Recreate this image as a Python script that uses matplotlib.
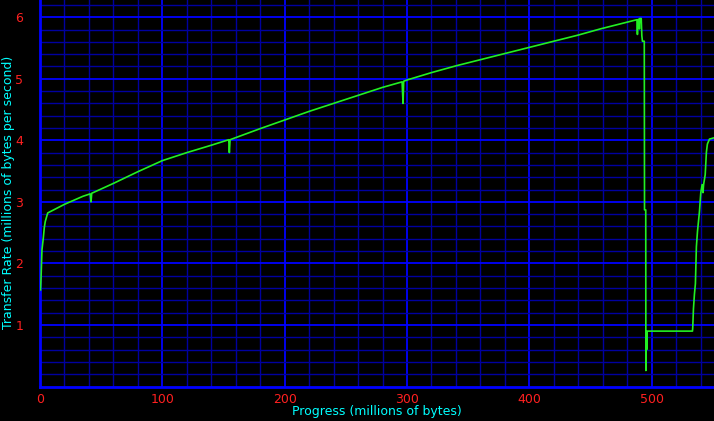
import matplotlib
matplotlib.use("Agg")
import matplotlib.pyplot as plt
from matplotlib.ticker import MultipleLocator, FixedLocator

# progress (millions of bytes) vs transfer rate (millions of bytes per second)
progress = [0.4, 0.8, 1.6, 2.7, 3.5, 4.3, 6.3, 20, 35, 41.0, 41.7, 42.3,
            60, 80, 100, 120, 140, 154.3, 154.8, 155.4, 180, 200, 220, 240,
            260, 280, 296.0, 296.4, 296.8, 297.3, 300, 320, 340, 360, 380,
            400, 420, 440, 458, 480, 488, 488.4, 488.8, 489.6, 490, 490.4,
            491.5, 492, 492.5, 494, 494.2, 495.2, 495.3, 495.6, 496, 496.3,
            533.4, 533.6, 534.2, 535, 535.8, 536.6, 537.5, 539.1, 540.2,
            541.3, 542, 542.5, 543.8, 544.8, 545.6, 547.3, 551]
rate = [1.57, 1.73, 2.22, 2.41, 2.58, 2.68, 2.82, 2.96, 3.09, 3.13, 3.00, 3.14,
        3.30, 3.49, 3.67, 3.80, 3.92, 4.01, 3.80, 4.01, 4.19, 4.33, 4.47, 4.60,
        4.73, 4.86, 4.95, 4.77, 4.60, 4.96, 4.98, 5.10, 5.21, 5.31, 5.41,
        5.51, 5.61, 5.71, 5.81, 5.92, 5.96, 5.72, 5.96, 5.97, 5.81, 5.98,
        5.98, 5.70, 5.61, 5.61, 2.87, 2.87, 0.26, 0.90, 0.60, 0.90,
        0.90, 0.95, 1.26, 1.50, 1.67, 2.27, 2.52, 2.84, 3.15,
        3.28, 3.15, 3.28, 3.44, 3.81, 3.94, 4.02, 4.04]

x_ticks = [0, 100, 200, 300, 400, 500]
y_ticks = [1, 2, 3, 4, 5, 6]

fig = plt.figure(figsize=(7.14, 4.21), dpi=100, facecolor="black")
ax = fig.add_axes([40 / 714, 34.5 / 421, 674 / 714, 386.5 / 421], facecolor="black")

ax.set_xlim(0, 551)
ax.set_ylim(0, 6.28)

# grid: dark blue minor, bright blue major
ax.xaxis.set_major_locator(FixedLocator(x_ticks))
ax.yaxis.set_major_locator(FixedLocator(y_ticks))
ax.xaxis.set_minor_locator(MultipleLocator(20))
ax.yaxis.set_minor_locator(MultipleLocator(0.2))
ax.grid(which="minor", color="#0000a0", linewidth=1.0)
ax.grid(which="major", color="#0000ff", linewidth=1.3)
ax.set_axisbelow(True)

ax.plot(progress, rate, color="#22f022", linewidth=1.2, zorder=3)

for side in ["top", "right"]:
    ax.spines[side].set_visible(False)
for side in ["left", "bottom"]:
    ax.spines[side].set_color("#0000ff")
    ax.spines[side].set_linewidth(2)

ax.tick_params(which="both", length=0, colors="#ff2020", labelsize=9)
ax.tick_params(axis="x", pad=5)
ax.tick_params(axis="y", pad=12)

# axis titles placed in figure pixels
fig.text(377 / 714, 1 - 412 / 421, "Progress (millions of bytes)", color="#00ffff",
         fontsize=9, ha="center", va="center")
fig.text(9 / 714, 1 - 192 / 421, "Transfer Rate (millions of bytes per second)", color="#00ffff",
         fontsize=9, ha="center", va="center", rotation=90)

fig.savefig("out.png", dpi=100, facecolor="black")
